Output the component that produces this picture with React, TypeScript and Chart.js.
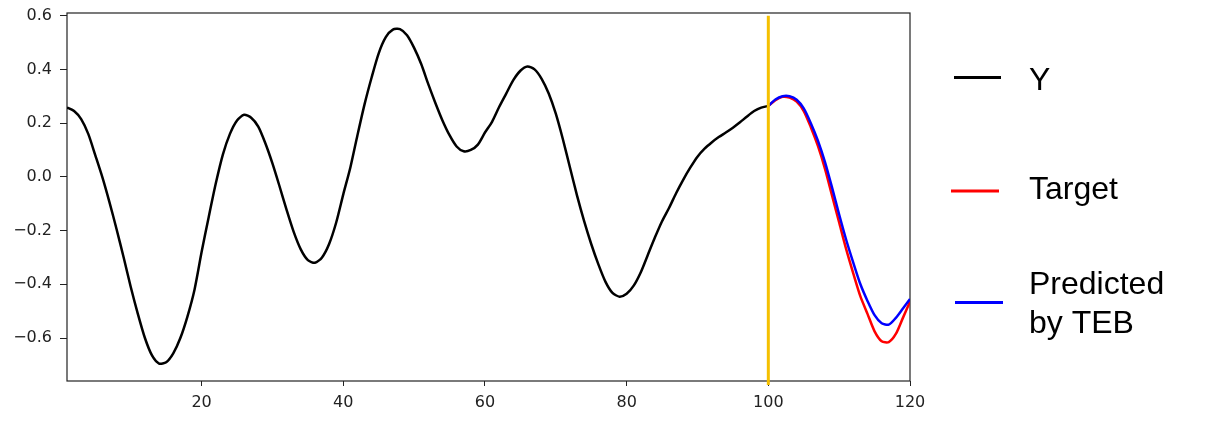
import React, { useEffect, useRef } from "react";
import { Chart, registerables } from "chart.js";

Chart.register(...registerables);

// Observed series Y for t = 1..100
const yStart = 1;
const yValues = [
  0.258, 0.245, 0.215, 0.16, 0.08, -0.002, -0.095, -0.195, -0.3, -0.41,
  -0.51, -0.6, -0.665, -0.695, -0.69, -0.657, -0.6, -0.52, -0.42, -0.28,
  -0.15, -0.025, 0.083, 0.16, 0.21, 0.231, 0.22, 0.187, 0.125, 0.05,
  -0.035, -0.123, -0.205, -0.27, -0.31, -0.32, -0.3, -0.25, -0.17, -0.065,
  0.035, 0.155, 0.27, 0.37, 0.46, 0.52, 0.548, 0.55, 0.527, 0.48,
  0.42, 0.345, 0.275, 0.21, 0.155, 0.113, 0.095, 0.1, 0.12, 0.165,
  0.205, 0.26, 0.31, 0.36, 0.395, 0.411, 0.4, 0.365, 0.31, 0.235,
  0.14, 0.035, -0.07, -0.165, -0.25, -0.325, -0.39, -0.432, -0.446, -0.435,
  -0.405, -0.355, -0.29, -0.225, -0.165, -0.115, -0.06, -0.01, 0.035, 0.075,
  0.105, 0.128, 0.148, 0.165, 0.183, 0.203, 0.225, 0.245, 0.258, 0.264,
];

// Forecast window t = 100..120
const forecastStart = 100;
const targetValues = [
  0.264, 0.285, 0.298, 0.295, 0.28, 0.245, 0.185, 0.115, 0.03, -0.07,
  -0.17, -0.27, -0.36, -0.445, -0.51, -0.575, -0.612, -0.615, -0.585, -0.525,
  -0.465,
];
const predictedValues = [
  0.264, 0.288, 0.3, 0.3, 0.287, 0.255, 0.2, 0.135, 0.055, -0.04,
  -0.14, -0.235, -0.32, -0.4, -0.462, -0.515, -0.545, -0.55, -0.525, -0.49,
  -0.455,
];

// Vertical marker at the forecast boundary
const markerX = 100;
const markerRange = [0.6, -0.775];

const xTicks = [20, 40, 60, 80, 100, 120];
const yTicks = [-0.6, -0.4, -0.2, 0.0, 0.2, 0.4, 0.6];

const legendItems = [
  { label: ["Y"], color: "#000000" },
  { label: ["Target"], color: "#ff0000" },
  { label: ["Predicted", "by TEB"], color: "#0000ff" },
];

const toPoints = (start: number, vals: number[]) =>
  vals.map((v, i) => ({ x: start + i, y: v }));

const fmt = (v: number) => {
  const n = Math.abs(v) < 1e-9 ? 0 : v;
  return n.toFixed(1).replace("-", "\u2212");
};

export default function App() {
  const ref = useRef<HTMLCanvasElement | null>(null);

  useEffect(() => {
    if (!ref.current) return;

    const framePlugin = {
      id: "frame",
      beforeDatasetsDraw(chart: any) {
        const { ctx, chartArea } = chart;
        ctx.save();
        ctx.strokeStyle = "#222";
        ctx.lineWidth = 1.2;
        ctx.strokeRect(
          chartArea.left,
          chartArea.top,
          chartArea.right - chartArea.left,
          chartArea.bottom - chartArea.top
        );
        ctx.restore();
      },
    };

    const legendPlugin = {
      id: "customLegend",
      afterDraw(chart: any) {
        const ctx = chart.ctx;
        ctx.save();
        const lineRows = [77.5, 191, 302.5];
        const lineX = [
          [954, 1001],
          [951, 999],
          [955, 1003],
        ];
        const baselines = [[89.5], [198.5], [293.5, 333]];
        legendItems.forEach((item, i) => {
          ctx.strokeStyle = item.color;
          ctx.lineWidth = 3;
          ctx.beginPath();
          ctx.moveTo(lineX[i][0], lineRows[i]);
          ctx.lineTo(lineX[i][1], lineRows[i]);
          ctx.stroke();
          ctx.fillStyle = "#000";
          ctx.font = "32px 'Liberation Sans', Arial, sans-serif";
          ctx.textAlign = "left";
          ctx.textBaseline = "alphabetic";
          item.label.forEach((t, j) => {
            ctx.fillText(t, 1029, baselines[i][j]);
          });
        });
        ctx.restore();
      },
    };

    const lineCommon = {
      pointRadius: 0,
      tension: 0.25,
      borderWidth: 2.5,
    };

    const chart = new Chart(ref.current, {
      type: "line",
      data: {
        datasets: [
          {
            label: "marker",
            data: markerRange.map((v) => ({ x: markerX, y: v })),
            borderColor: "#f5c000",
            borderWidth: 3,
            pointRadius: 0,
            clip: false as any,
            order: 0,
          },
          {
            label: "Predicted by TEB",
            data: toPoints(forecastStart, predictedValues),
            borderColor: "#0000ff",
            ...lineCommon,
            order: 1,
          },
          {
            label: "Target",
            data: toPoints(forecastStart, targetValues),
            borderColor: "#ff0000",
            ...lineCommon,
            order: 2,
          },
          {
            label: "Y",
            data: toPoints(yStart, yValues),
            borderColor: "#000000",
            ...lineCommon,
            order: 3,
          },
        ],
      },
      options: {
        responsive: false,
        animation: false,
        devicePixelRatio: 1,
        layout: { padding: { top: 13, right: 300, bottom: 0, left: 0 } },
        plugins: {
          legend: { display: false },
          tooltip: { enabled: false },
        },
        scales: {
          x: {
            type: "linear",
            min: 1,
            max: 120,
            afterFit(scale: any) {
              scale.height = 42;
            },
            afterBuildTicks(scale: any) {
              scale.ticks = xTicks.map((v) => ({ value: v }));
            },
            border: { display: false },
            grid: {
              drawOnChartArea: false,
              drawTicks: true,
              tickLength: 5,
              tickWidth: 1,
              tickColor: "#222",
            },
            ticks: {
              font: { family: "'DejaVu Sans'", size: 16 },
              color: "#222",
              padding: 7,
              maxRotation: 0,
              callback: (v: any) => String(v),
            },
          },
          y: {
            type: "linear",
            min: -0.76,
            max: 0.61,
            afterFit(scale: any) {
              scale.width = 67;
              scale.paddingTop = 0;
              scale.paddingBottom = 0;
            },
            afterBuildTicks(scale: any) {
              scale.ticks = yTicks.map((v) => ({ value: v }));
            },
            border: { display: false },
            grid: {
              drawOnChartArea: false,
              drawTicks: true,
              tickLength: 7,
              tickWidth: 1,
              tickColor: "#222",
            },
            ticks: {
              font: { family: "'DejaVu Sans'", size: 16 },
              color: "#222",
              padding: 8,
              callback: (v: any) => fmt(Number(v)),
            },
          },
        },
      },
      plugins: [framePlugin, legendPlugin],
    } as any);

    return () => chart.destroy();
  }, []);

  return (
    <div
      style={{
        position: "fixed",
        left: 0,
        top: 0,
        width: 1210,
        height: 423,
        background: "#fff",
      }}
    >
      <canvas ref={ref} width={1210} height={423} />
    </div>
  );
}
